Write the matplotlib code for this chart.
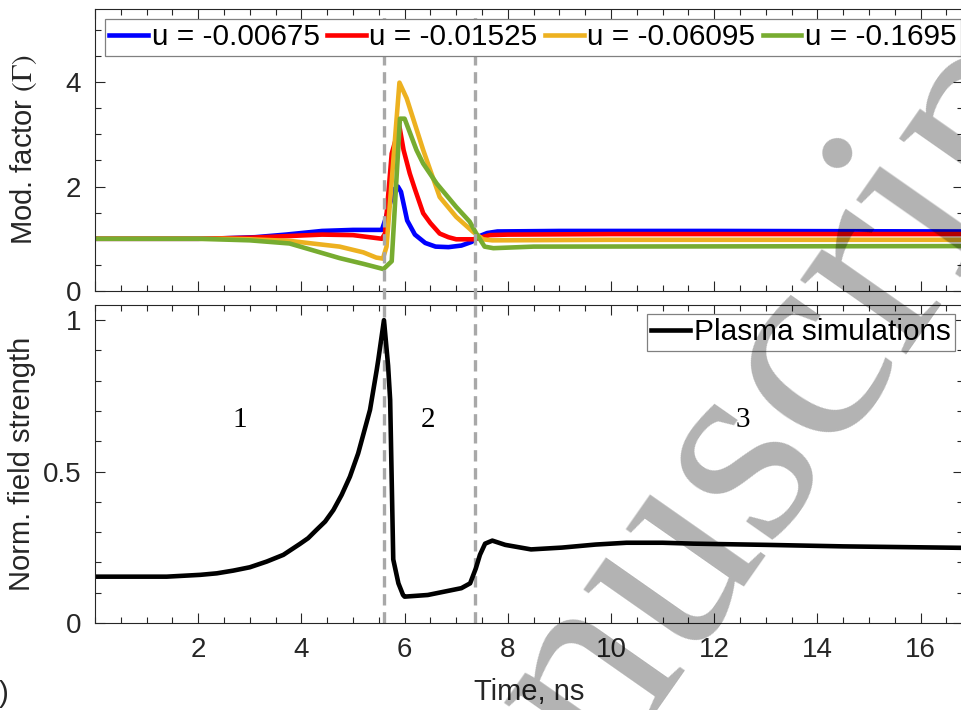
import matplotlib

matplotlib.use("Agg")
import matplotlib.pyplot as plt
from matplotlib.lines import Line2D
from matplotlib.ticker import MultipleLocator
import matplotlib.transforms as mtransforms

# ---- data ----
T_BLUE = [0, 1, 2, 2.5, 3.1, 3.7, 4.4, 5.0, 5.56, 5.62, 5.8, 5.87, 5.93, 6.05,
          6.2, 6.4, 6.6, 6.85, 7.1, 7.3, 7.45, 7.6, 7.8, 9, 12, 16.9]
G_BLUE = [1.0, 1.0, 1.0, 1.01, 1.03, 1.08, 1.15, 1.17, 1.17, 1.35, 1.95, 2.0,
          1.9, 1.35, 1.08, 0.92, 0.85, 0.84, 0.87, 0.94, 1.05, 1.11, 1.14,
          1.15, 1.15, 1.14]

T_RED = [0, 1, 2, 3.0, 3.7, 4.4, 5.0, 5.56, 5.62, 5.75, 5.9, 5.98, 6.1, 6.2,
         6.36, 6.5, 6.68, 6.85, 7.0, 7.33, 7.5, 7.65, 8.0, 10, 16.9]
G_RED = [1.0, 1.0, 1.0, 1.02, 1.05, 1.08, 1.07, 1.0, 1.1, 2.63, 3.15, 2.7,
         2.25, 1.95, 1.49, 1.3, 1.10, 1.03, 0.99, 0.99, 1.03, 1.07, 1.08,
         1.09, 1.09]

T_ORANGE = [0, 1, 2.5, 3.0, 3.77, 4.74, 5.2, 5.45, 5.58, 5.65, 5.9, 6.04,
            6.36, 6.68, 7.0, 7.33, 7.52, 7.7, 10, 16.9]
G_ORANGE = [1.0, 1.0, 1.0, 0.99, 0.96, 0.85, 0.74, 0.64, 0.62, 0.85, 3.99,
            3.69, 2.70, 1.80, 1.42, 1.13, 0.99, 0.97, 0.98, 0.98]

T_GREEN = [0, 1, 2.0, 3.0, 3.77, 4.74, 5.2, 5.59, 5.75, 5.91, 6.0, 6.23,
           6.36, 6.62, 7.0, 7.26, 7.39, 7.55, 7.72, 8.5, 16.9]
G_GREEN = [1.0, 1.0, 1.0, 0.97, 0.91, 0.63, 0.52, 0.42, 0.57, 3.3, 3.3, 2.70,
           2.44, 2.06, 1.61, 1.33, 1.10, 0.85, 0.82, 0.85, 0.86]

U_LABELS = ["u = -0.00675", "u = -0.01525", "u = -0.06095", "u = -0.1695"]

T_FIELD = [0, 1.39, 2.04, 2.36, 2.68, 3.0, 3.33, 3.65, 3.97, 4.13, 4.29, 4.46,
           4.62, 4.78, 4.94, 5.1, 5.26, 5.33, 5.46, 5.49, 5.6, 5.68, 5.72,
           5.78, 5.88, 5.97, 6.0, 6.45, 7.1, 7.27, 7.38, 7.46, 7.56, 7.7,
           7.95, 8.45, 9.05, 9.7, 10.3, 11.0, 11.6, 13.0, 14.5, 16.9]
E_FIELD = [0.153, 0.153, 0.159, 0.164, 0.173, 0.184, 0.203, 0.225, 0.261,
           0.28, 0.307, 0.335, 0.373, 0.423, 0.483, 0.56, 0.66, 0.704, 0.836,
           0.869, 1.0, 0.85, 0.737, 0.21, 0.131, 0.0925, 0.087, 0.0925, 0.115,
           0.131, 0.18, 0.225, 0.262, 0.272, 0.258, 0.243, 0.249, 0.259,
           0.265, 0.265, 0.262, 0.258, 0.253, 0.248]

PHASE_EDGES = [5.6, 7.36]
PHASE_NAMES = ["1", "2", "3"]
PHASE_X = [2.8, 6.45, 12.55]

COLORS = ["#0000FF", "#FF0000", "#EDB120", "#77AC30"]
INK = "#262626"

W, H = 961, 710
plt.rcParams["font.family"] = ["Liberation Sans", "DejaVu Sans"]
plt.rcParams["mathtext.fontset"] = "stix"

fig = plt.figure(figsize=(W / 100, H / 100), dpi=100)


def px_axes(x0, y0, x1, y1):
    # pixel box (top-left origin) -> figure fraction axes
    return fig.add_axes([x0 / W, 1 - y1 / H, (x1 - x0) / W, (y1 - y0) / H])


ax_g = px_axes(95, 9, 963, 291)
ax_e = px_axes(95, 305, 963, 623)
XMAX = 868 / 51.6
LW = 3.3

for ax in (ax_g, ax_e):
    ax.set_facecolor("none")
    ax.set_xlim(0, XMAX)
    ax.xaxis.set_major_locator(MultipleLocator(2))
    ax.xaxis.set_minor_locator(MultipleLocator(0.5))
    ax.tick_params(which="both", direction="in", top=True, right=True,
                   color=INK, labelcolor=INK, labelsize=20, width=0.8)
    ax.tick_params(which="major", length=7, pad=10)
    ax.tick_params(which="minor", length=4.5)
    for s in ax.spines.values():
        s.set_color(INK)
        s.set_linewidth(0.8)

# --- top panel: modulation factor ---
for t, g, c, lab in zip([T_BLUE, T_RED, T_ORANGE, T_GREEN],
                        [G_BLUE, G_RED, G_ORANGE, G_GREEN], COLORS, U_LABELS):
    ax_g.plot(t, g, color=c, lw=LW, label=lab, solid_joinstyle="round")
ax_g.set_ylim(0, 5.4)
ax_g.yaxis.set_major_locator(MultipleLocator(2))
ax_g.yaxis.set_minor_locator(MultipleLocator(0.5))
ax_g.tick_params(labelbottom=False)
ax_g.set_ylabel(r"Mod. factor $(\Gamma)$", fontsize=21, color=INK)
ax_g.yaxis.set_label_coords(-0.064, 0.5)
leg = ax_g.legend(loc="upper left", ncol=4, fontsize=21.4,
                  bbox_to_anchor=(105 / W, 1 - 19 / H),
                  bbox_transform=fig.transFigure, borderaxespad=0,
                  handlelength=1.3, handletextpad=0.12, columnspacing=0.25,
                  borderpad=0.15, fancybox=False, framealpha=1)
leg.get_frame().set_edgecolor("0.5")
leg.get_frame().set_linewidth(0.9)
leg.set_zorder(20)

# --- bottom panel: normalised field ---
ax_e.plot(T_FIELD, E_FIELD, color="k", lw=LW, label="Plasma simulations",
          solid_joinstyle="round")
ax_e.set_ylim(0, 1.05)
ax_e.set_yticks([0, 0.5, 1])
ax_e.set_yticklabels(["0", "0.5", "1"])
ax_e.yaxis.set_minor_locator(MultipleLocator(0.1))
ax_e.set_xticks(range(2, 17, 2))
ax_e.set_xlabel("Time, ns", fontsize=21, color=INK, labelpad=11)
ax_e.set_ylabel("Norm. field strength", fontsize=21, color=INK)
ax_e.yaxis.set_label_coords(-0.068, 0.5)
leg2 = ax_e.legend(loc="upper right", fontsize=21.4,
                   bbox_to_anchor=(955 / W, 1 - 314 / H),
                   bbox_transform=fig.transFigure, borderaxespad=0,
                   handlelength=1.3, handletextpad=0.12, borderpad=0.15,
                   fancybox=False, framealpha=1)
leg2.get_frame().set_edgecolor("0.5")
leg2.get_frame().set_linewidth(0.9)

for name, xp in zip(PHASE_NAMES, PHASE_X):
    ax_e.text(xp, 0.67, name, fontsize=21, family="Liberation Serif",
              ha="center", va="center")

# phase boundaries run through both panels
blend = mtransforms.blended_transform_factory(ax_g.transData, fig.transFigure)
for xe in PHASE_EDGES:
    ln = Line2D([xe, xe], [1 - 623 / H, 1 - 13 / H], transform=blend,
                color="#A8A8A8", lw=2.4, linestyle=(0, (3.4, 2.0)),
                clip_on=False, zorder=4)
    ax_g.add_line(ln)

# leftover panel tag and watermark cut by the page edge
fig.text(9 / W, 1 - 702 / H, "(b)", fontsize=21, color=INK, ha="right",
         va="baseline")
fig.text(388 / W, 1 - 1082 / H, "Manuscript", fontsize=203,
         family="Liberation Serif", color="k", alpha=0.3, rotation=55,
         rotation_mode="anchor", ha="left", va="baseline", zorder=30)

fig.savefig("out.png", dpi=100)
